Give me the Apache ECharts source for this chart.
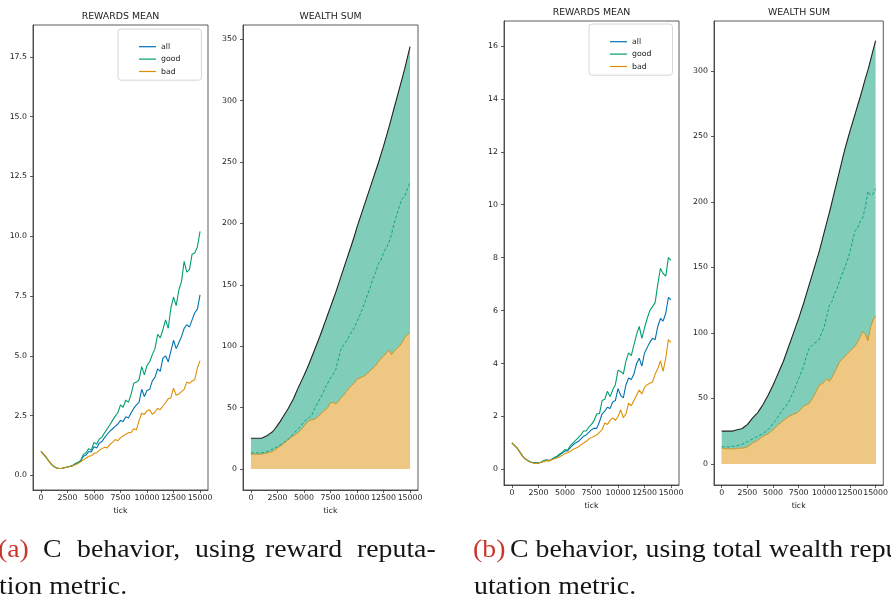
<!DOCTYPE html>
<html><head><meta charset="utf-8">
<script src="https://cdn.jsdelivr.net/npm/echarts@6/dist/echarts.min.js"></script>
<style>html,body{margin:0;padding:0;background:#fff}#c{width:891px;height:604px}</style>
</head><body><div id="c"></div>
<script>
const ticks = [0,250,500,750,1000,1250,1500,1750,2000,2250,2500,2750,3000,3250,3500,3750,4000,4250,4500,4750,5000,5250,5500,5750,6000,6250,6500,6750,7000,7250,7500,7750,8000,8250,8500,8750,9000,9250,9500,9750,10000,10250,10500,10750,11000,11250,11500,11750,12000,12250,12500,12750,13000,13250,13500,13750,14000,14250,14500,14750,15000];

const rewA_all = [1.00,0.88,0.75,0.60,0.46,0.36,0.31,0.29,0.30,0.33,0.35,0.38,0.41,0.48,0.54,0.60,0.80,0.85,1.00,0.98,1.20,1.15,1.35,1.42,1.58,1.72,1.85,1.95,2.05,2.15,2.30,2.25,2.45,2.40,2.62,2.80,2.95,3.05,3.60,3.30,3.55,3.60,3.95,4.10,4.45,4.35,4.90,5.00,4.75,5.20,5.65,5.30,5.55,5.80,6.15,6.30,6.20,6.50,6.80,6.95,7.55];
const rewA_good = [1.00,0.88,0.75,0.60,0.46,0.36,0.31,0.29,0.30,0.33,0.35,0.38,0.42,0.50,0.55,0.62,0.88,0.95,1.12,1.05,1.38,1.30,1.52,1.60,1.78,1.95,2.12,2.30,2.48,2.62,2.95,2.85,3.15,3.05,3.40,3.85,3.90,4.00,4.55,4.20,4.60,4.75,5.05,5.30,5.90,5.75,6.10,6.50,6.15,7.00,7.45,7.10,7.75,8.10,8.95,8.50,8.60,9.25,9.30,9.55,10.20];
const rewA_bad = [1.00,0.88,0.75,0.60,0.46,0.36,0.31,0.29,0.30,0.32,0.34,0.37,0.40,0.45,0.50,0.57,0.65,0.72,0.80,0.82,0.92,0.95,1.05,1.12,1.18,1.15,1.30,1.38,1.50,1.45,1.58,1.65,1.72,1.78,1.80,1.95,1.90,2.30,2.60,2.55,2.70,2.75,2.55,2.65,2.80,2.75,2.90,3.05,3.20,3.25,3.65,3.35,3.40,3.50,3.60,3.90,3.85,3.95,4.00,4.50,4.80];

const rewB_all = [1.00,0.90,0.80,0.65,0.50,0.40,0.33,0.28,0.25,0.25,0.24,0.27,0.32,0.35,0.33,0.37,0.43,0.48,0.55,0.62,0.70,0.70,0.82,0.92,1.00,1.05,1.15,1.25,1.30,1.40,1.50,1.55,1.55,1.80,2.10,2.20,2.35,2.30,2.55,2.60,3.05,2.80,2.70,3.20,3.45,3.40,3.60,4.00,4.20,3.90,4.40,4.60,4.80,4.95,4.90,5.40,5.70,5.60,5.90,6.50,6.40];
const rewB_good = [1.00,0.90,0.80,0.65,0.50,0.40,0.33,0.28,0.25,0.25,0.24,0.28,0.33,0.36,0.33,0.38,0.45,0.50,0.58,0.65,0.75,0.72,0.90,1.00,1.10,1.20,1.30,1.45,1.45,1.60,1.70,1.85,2.10,2.10,2.60,2.65,2.95,2.75,3.00,3.20,3.75,3.70,3.60,4.10,4.40,4.30,4.70,5.10,5.40,4.95,5.35,5.70,6.00,6.15,6.30,7.00,7.60,7.40,7.30,8.00,7.90];
const rewB_bad = [1.00,0.90,0.80,0.65,0.50,0.40,0.33,0.28,0.24,0.22,0.23,0.27,0.30,0.33,0.32,0.36,0.40,0.43,0.48,0.53,0.60,0.63,0.68,0.75,0.80,0.85,0.92,1.00,1.05,1.15,1.20,1.25,1.30,1.40,1.50,1.75,1.70,1.85,1.95,1.85,2.00,2.25,1.95,2.10,2.50,2.40,2.60,2.80,3.00,2.85,3.10,3.20,3.25,3.30,3.60,3.80,4.10,3.70,4.20,4.90,4.80];

const wealthA_total = [25,25,25,25,25,26,27,28.5,30,32.5,35.5,38.5,42,45.5,49,53,57,62,67,71.5,76,81,86,91.5,97,102.5,108,114,120,126,132,138,144,150.5,157,163.5,170,176.5,183,189.5,197,203.5,210,216.5,223,229.5,236,242.5,249,256,263,270.5,278,286,294,302,310,318,326,335,344];
const wealthA_good = [13,13,13,13,13,13.5,14,15,16,17,18,19.5,21,22.5,24,26,28.5,31,33,35.5,38.5,40,42,44,49,53,57,61,66,70,74,77,81,90,98,101,104,108,112,115,120,125,130,136,142,148,155,160,167,170,176,180,184,191,200,207,214,220,222,228,233];
const wealthA_bad = [12,12,12,12,12,12.5,13,13.5,14,15.5,17,18.5,20,22,24,25.5,27,28.5,30,32,35,37.5,39.5,40,40.5,42,44,46.5,48,50,54,54,53,55,58,60,63,66,68,70,73,74,75,76,78,80,82,84,87,90,92,94,97,93,96,98,100,103,107,109,111];

const wealthB_total = [25,25,25,25,25,25.5,26,26.5,27,28.5,30,32.5,35,37,39,42,45,48.5,52,56,60,64.5,69,73.5,78,83.5,89,94.5,100,105.5,111,117,123,129.5,136,142.5,149,155.5,162,169.5,177,184.5,192,200,208,216,224,232,240,247,254,260.5,267,273.5,280,287,294,300.5,308,315.5,323];
const wealthB_good = [13,13,13,13,13.5,13.5,14,14.5,15,16,17,18,19,20,21,22,23,24.5,26,28,31,33,36,39,42,44,47,51,55,60,65,70,75,82,88,90,92,93,95,100,105,113,121,124,130,134,140,145,150,155,162,170,178,180,185,188,196,208,205,206,210];
const wealthB_bad = [12,12,11.5,11.5,11.5,11.5,12,12,12,12.5,13,14.5,16,17,18,19.5,21,22,23,24.5,26,28,30,31.5,33,34.5,36,37,38,38.5,40,42,44,45,46,49,52,56,60,61,63,65,63,66,70,74,78,80,82,84,86,88,90,93,97,101,99,94,104,110,113];

const xTickVals = [0,2500,5000,7500,10000,12500,15000];
const rewA_yTicks = [0,2.5,5,7.5,10,12.5,15,17.5];
const wealthA_yTicks = [0,50,100,150,200,250,300,350];
const rewB_yTicks = [0,2,4,6,8,10,12,14,16];
const wealthB_yTicks = [0,50,100,150,200,250,300];
const legendNames = ['all','good','bad'];
const panelTitles = ['REWARDS MEAN','WEALTH SUM','REWARDS MEAN','WEALTH SUM'];
const captionA1 = ['(a)','C','behavior,','using','reward','reputa-'];
const captionA2 = 'tion metric.';
const captionB1 = ['(b)','C behavior, using total wealth reputation metric.'];
const captionB2 = 'utation metric.';

const C_BLUE = '#0173b2', C_GREEN = '#029e73', C_ORANGE = '#de8f05';
const pairs = ys => ticks.map((t,i) => [t, ys[i]]);
const FONT = 'DejaVu Sans';

const grids = [
  {left:33, top:25, width:175, height:465},
  {left:243, top:25, width:175, height:465},
  {left:504, top:21, width:175, height:464},
  {left:714, top:21, width:170, height:464}
];
const yRanges = [[-0.61,18.83],[-17.2,361.6],[-0.59,16.94],[-16.1,338.0]];
const yTickSets = [rewA_yTicks, wealthA_yTicks, rewB_yTicks, wealthB_yTicks];
const yFmt = [v=>v.toFixed(1), v=>String(v), v=>String(v), v=>String(v)];

const xAxes = grids.map((g,i)=>({
  type:'value', gridIndex:i, min:-750, max:15750,
  name:'tick', nameLocation:'middle', nameGap:14,
  nameTextStyle:{fontFamily:FONT, fontSize:7.8, color:'#222'},
  axisLine:{show:true, onZero:false, lineStyle:{color:'#333', width:0.8}},
  axisTick:{show:true, length:3, customValues:xTickVals, lineStyle:{color:'#333', width:0.8}},
  axisLabel:{customValues:xTickVals, formatter:v=>String(v), hideOverlap:false, interval:0, margin:4,
    fontFamily:FONT, fontSize:7.8, color:'#222'},
  splitLine:{show:false}
}));
const yAxes = grids.map((g,i)=>({
  type:'value', gridIndex:i, min:yRanges[i][0], max:yRanges[i][1],
  axisLine:{show:true, onZero:false, lineStyle:{color:'#333', width:0.8}},
  axisTick:{show:true, length:3, customValues:yTickSets[i], lineStyle:{color:'#333', width:0.8}},
  axisLabel:{customValues:yTickSets[i], formatter:yFmt[i], margin:6, fontFamily:FONT, fontSize:7.8, color:'#222'},
  splitLine:{show:false}
}));

function rewardSeries(gi, all, good, bad){
  const mk = (name, ys, color) => ({
    name, type:'line', xAxisIndex:gi, yAxisIndex:gi, data:pairs(ys),
    symbol:'none', smooth:false, lineStyle:{color, width:1.1}, itemStyle:{color}, z:3
  });
  return [mk('all', all, C_BLUE), mk('good', good, C_GREEN), mk('bad', bad, C_ORANGE)];
}
function wealthSeries(gi, total, good, bad){
  return [
    {name:'total-'+gi, type:'line', xAxisIndex:gi, yAxisIndex:gi, data:pairs(total), symbol:'none',
     lineStyle:{color:'#222', width:1.1}, areaStyle:{color:'#80ceb9', opacity:1}, z:2},
    {name:'badsum-'+gi, type:'line', xAxisIndex:gi, yAxisIndex:gi, data:pairs(bad), symbol:'none',
     lineStyle:{color:'#c9962a', width:1}, areaStyle:{color:'#eec782', opacity:1}, z:3},
    {name:'goodsum-'+gi, type:'line', xAxisIndex:gi, yAxisIndex:gi, data:pairs(good), symbol:'none',
     lineStyle:{color:C_GREEN, width:0.9, type:[3,2]}, z:4}
  ];
}

const series = [].concat(
  rewardSeries(0, rewA_all, rewA_good, rewA_bad),
  wealthSeries(1, wealthA_total, wealthA_good, wealthA_bad),
  rewardSeries(2, rewB_all, rewB_good, rewB_bad),
  wealthSeries(3, wealthB_total, wealthB_good, wealthB_bad)
);

const legendBase = {
  data:legendNames, orient:'vertical', icon:'rect', itemWidth:17, itemHeight:1.2, itemGap:3,
  padding:[13,21,4,21], borderColor:'#d6d6d6', borderWidth:1, borderRadius:3,
  backgroundColor:'rgba(255,255,255,0.8)',
  textStyle:{fontFamily:FONT, fontSize:7.8, color:'#222', lineHeight:9.4}, selectedMode:false
};
const legends = [
  Object.assign({}, legendBase, {left:118, top:29}),
  Object.assign({}, legendBase, {left:589, top:24})
];

const titleY = [17, 17, 12.5, 12.5];
const graphics = grids.map((g,i)=>({
  type:'text', style:{text:panelTitles[i], x:g.left+g.width/2, y:titleY[i], align:'center', verticalAlign:'middle',
    fontFamily:FONT, fontSize:9.4, fill:'#222'}
}));
const capFont = 'Liberation Serif', capSize = 25.5, capScale = 1.09, RED = '#c8372d', INK = '#151515';
function capText(text, x, y, fill){
  return {type:'text', x, y, scaleX:capScale, scaleY:1,
    style:{text, x:0, y:0, verticalAlign:'middle', fontFamily:capFont, fontSize:capSize, fill}};
}
const capA1X = [-2, 43, 77, 195, 265, 357];
captionA1.forEach((w,i)=>graphics.push(capText(w, capA1X[i], 550.5, i===0?RED:INK)));
graphics.push(capText(captionA2, -1, 587, INK));
graphics.push(capText(captionB1[0], 473, 550.5, RED));
graphics.push(capText(captionB1[1], 510, 550.5, INK));
graphics.push(capText(captionB2, 474, 587, INK));

const chart = echarts.init(document.getElementById('c'), null, {renderer:'canvas'});
chart.setOption({
  animation:false,
  backgroundColor:'#fff',
  grid: grids.map(g=>Object.assign({show:true, borderColor:'#333', borderWidth:0.8, backgroundColor:'transparent'}, g)),
  xAxis:xAxes, yAxis:yAxes, legend:legends, series, graphic:graphics
});
</script></body></html>
